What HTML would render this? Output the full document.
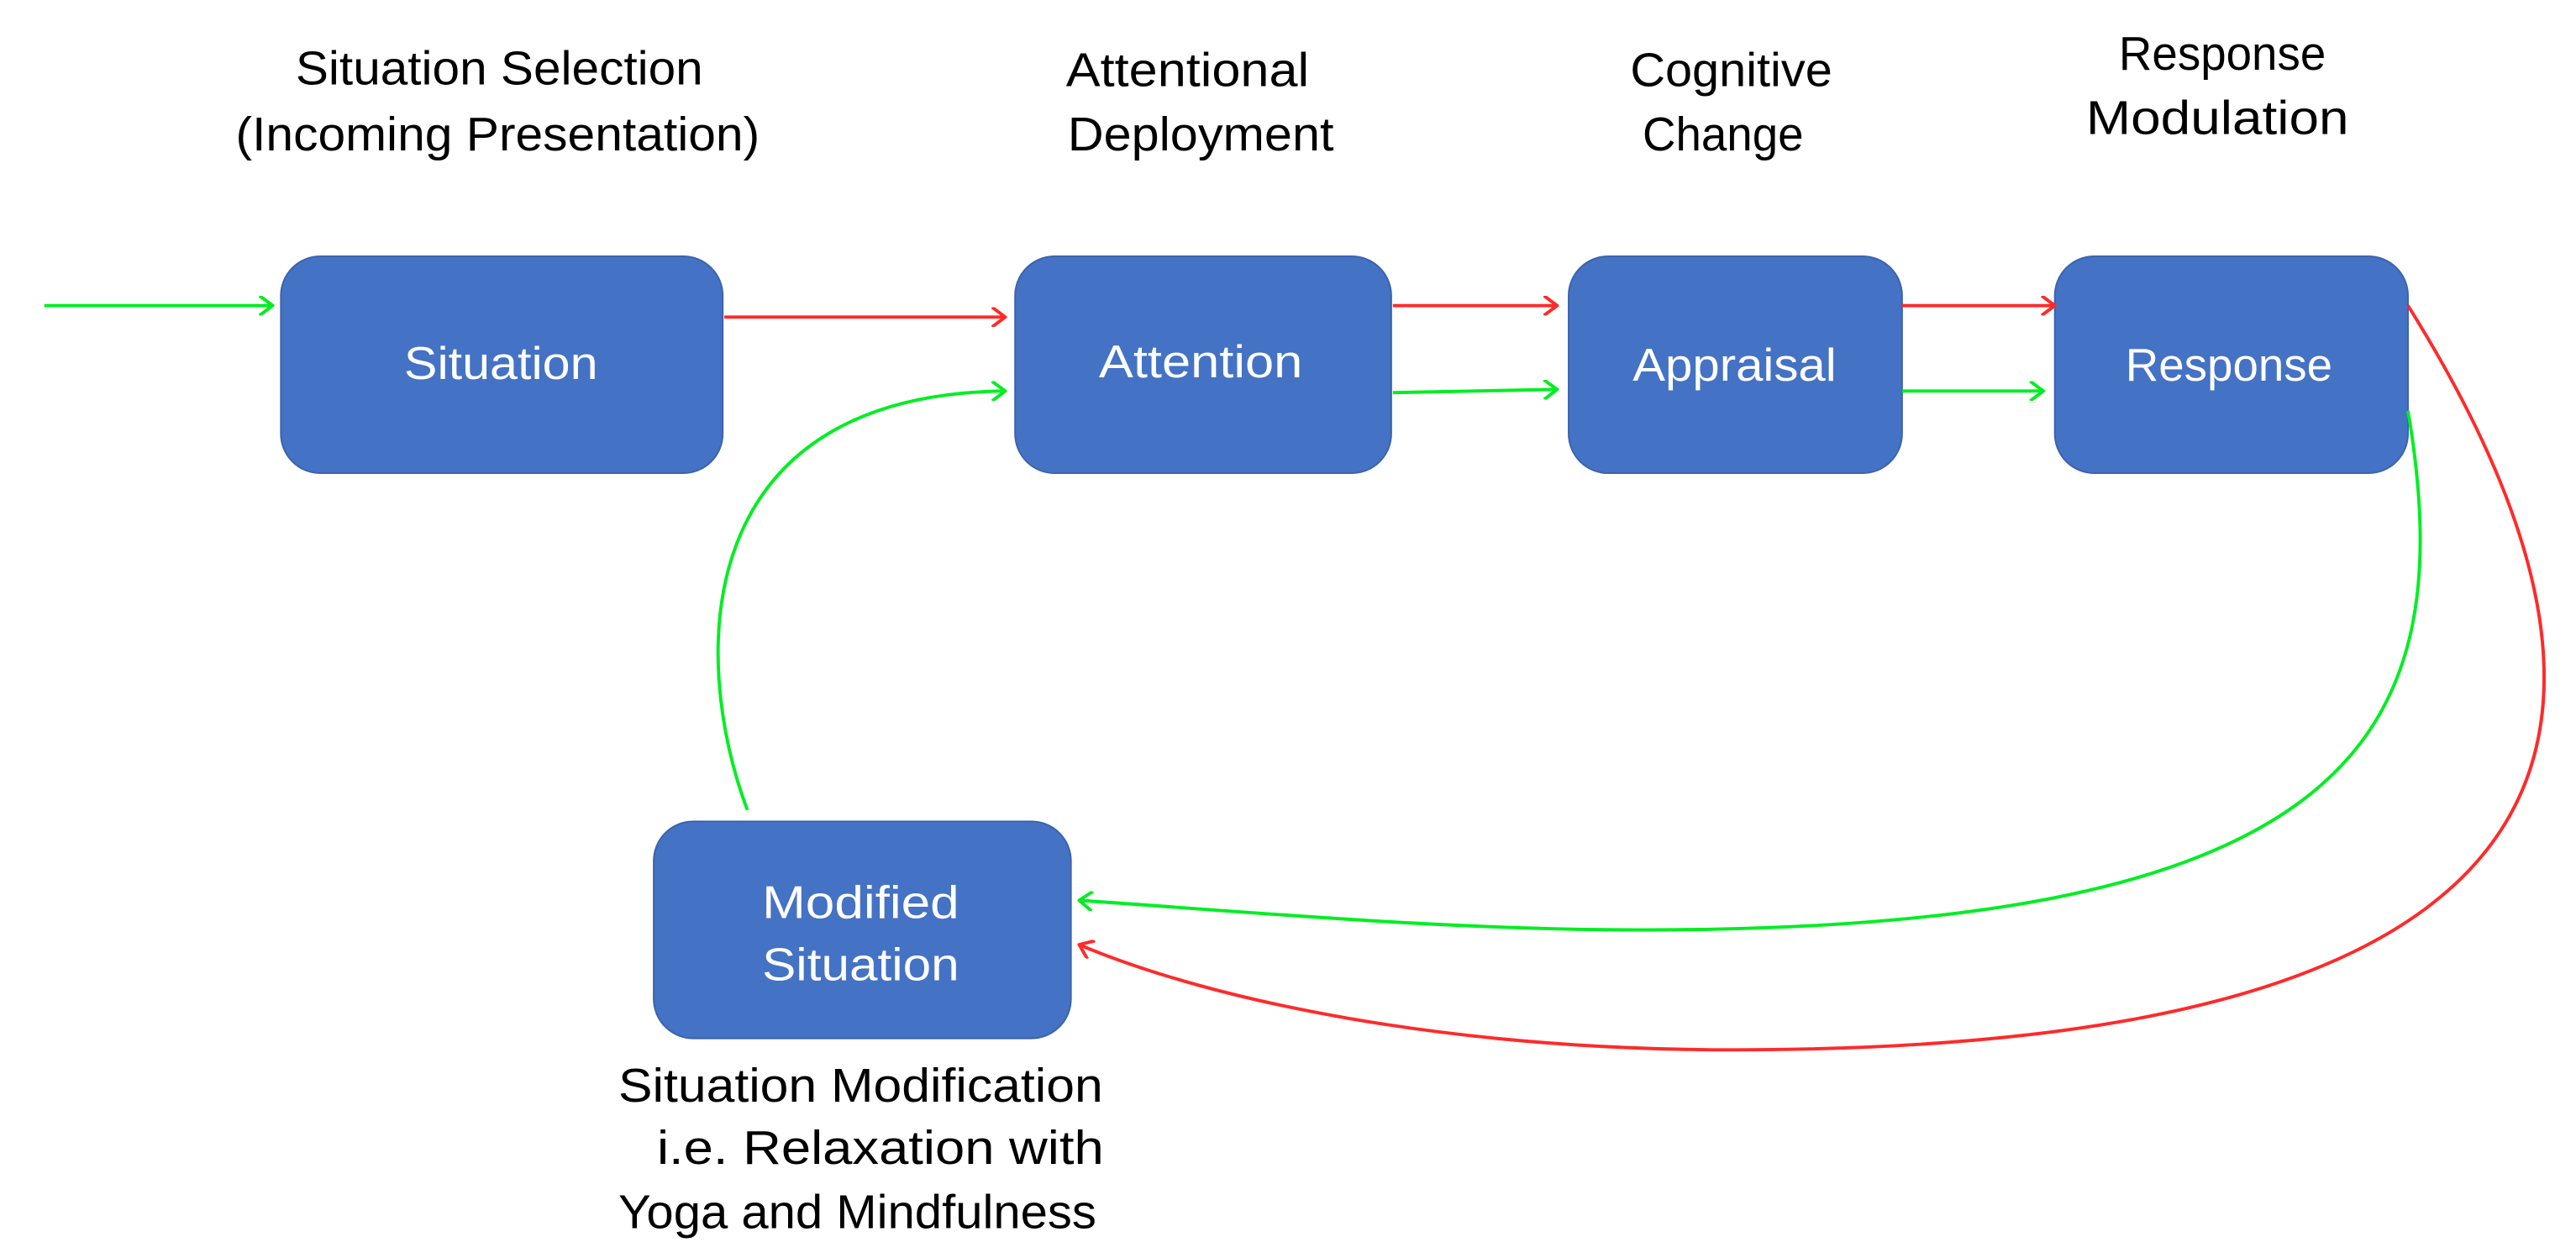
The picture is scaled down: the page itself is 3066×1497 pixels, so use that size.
<!DOCTYPE html>
<html><head><meta charset="utf-8"><style>
html,body{margin:0;padding:0;background:#fff}
svg{display:block}
text{font-family:"Liberation Sans",sans-serif}
</style></head><body>
<svg width="3066" height="1497" viewBox="0 0 1568.3 765.7" preserveAspectRatio="none" xmlns="http://www.w3.org/2000/svg">
<defs>
<marker id="ag" markerWidth="10" markerHeight="12" refX="9" refY="6" orient="auto" markerUnits="userSpaceOnUse"><path d="M1,0 L9,6 L1,12" fill="none" stroke="#00ee22" stroke-width="2"/></marker>
<marker id="ar" markerWidth="10" markerHeight="12" refX="9" refY="6" orient="auto" markerUnits="userSpaceOnUse"><path d="M1,0 L9,6 L1,12" fill="none" stroke="#ff2a2a" stroke-width="2"/></marker>
</defs>
<g fill="#4472C4" stroke="#3b63ad" stroke-width="1">
<rect x="171" y="156" width="269" height="132" rx="24"/>
<rect x="618" y="156" width="229" height="132" rx="24"/>
<rect x="955" y="156" width="203" height="132" rx="24"/>
<rect x="1251" y="156" width="215" height="132" rx="24"/>
<rect x="398" y="500" width="254" height="132" rx="24"/>
</g>
<g font-size="28" fill="#fff" text-anchor="middle" dominant-baseline="central">
<text x="305" y="221" textLength="118" lengthAdjust="spacingAndGlyphs">Situation</text>
<text x="731" y="220" textLength="124" lengthAdjust="spacingAndGlyphs">Attention</text>
<text x="1056" y="222" textLength="124" lengthAdjust="spacingAndGlyphs">Appraisal</text>
<text x="1357" y="222" textLength="126" lengthAdjust="spacingAndGlyphs">Response</text>
<text x="524" y="549" textLength="120" lengthAdjust="spacingAndGlyphs">Modified</text>
<text x="524" y="587" textLength="120" lengthAdjust="spacingAndGlyphs">Situation</text>
</g>
<g font-size="29" fill="#000" text-anchor="middle" dominant-baseline="central">
<text x="304" y="42" textLength="248" lengthAdjust="spacingAndGlyphs">Situation Selection</text>
<text x="303" y="82" textLength="319" lengthAdjust="spacingAndGlyphs">(Incoming Presentation)</text>
<text x="723" y="43" textLength="148" lengthAdjust="spacingAndGlyphs">Attentional</text>
<text x="731" y="82" textLength="162" lengthAdjust="spacingAndGlyphs">Deployment</text>
<text x="1054" y="43" textLength="123" lengthAdjust="spacingAndGlyphs">Cognitive</text>
<text x="1049" y="82" textLength="98" lengthAdjust="spacingAndGlyphs">Change</text>
<text x="1353" y="33" textLength="126" lengthAdjust="spacingAndGlyphs">Response</text>
<text x="1350" y="72" textLength="160" lengthAdjust="spacingAndGlyphs">Modulation</text>
<text x="524" y="661" textLength="295" lengthAdjust="spacingAndGlyphs">Situation Modification</text>
<text x="536" y="699" textLength="272" lengthAdjust="spacingAndGlyphs">i.e. Relaxation with</text>
<text x="522" y="738" textLength="291" lengthAdjust="spacingAndGlyphs">Yoga and Mindfulness</text>
</g>
<g fill="none" stroke-width="2">
<path d="M27,186 L166,186" stroke="#00ee22" marker-end="url(#ag)"/>
<path d="M441,193 L612,193" stroke="#ff2a2a" marker-end="url(#ar)"/>
<path d="M455,493 C420,400 420,240 612,238" stroke="#00ee22" marker-end="url(#ag)"/>
<path d="M848,186 L948,186" stroke="#ff2a2a" marker-end="url(#ar)"/>
<path d="M848,239 L948,237" stroke="#00ee22" marker-end="url(#ag)"/>
<path d="M1158,186 L1251,186" stroke="#ff2a2a" marker-end="url(#ar)"/>
<path d="M1158,238 L1244,238" stroke="#00ee22" marker-end="url(#ag)"/>
<path d="M1466,250 C1500,450 1430,566 1000,566 C880,566 760,555 657,548" stroke="#00ee22" marker-end="url(#ag)"/>
<path d="M1466,186 C1700,560 1400,640 1047,639 C880,638 740,610 657,575" stroke="#ff2a2a" marker-end="url(#ar)"/>
</g>
</svg>
</body></html>
